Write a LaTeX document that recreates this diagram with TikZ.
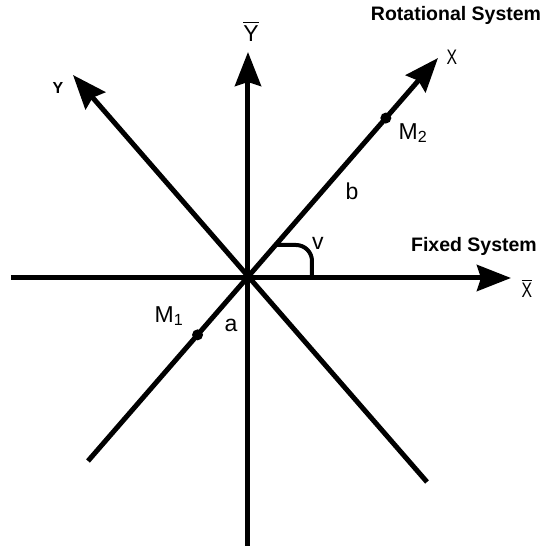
\documentclass[tikz,border=0pt]{standalone}
\usepackage{amsmath}
\usepackage{fontspec}
\setmainfont{Liberation Sans}
\newfontfamily\narrowfont{Liberation Sans}[FakeStretch=0.75]
\usetikzlibrary{arrows.meta}

\begin{document}
\begin{tikzpicture}[x=1pt, y=1pt, >={Stealth[length=34pt,width=26pt,inset=4pt]}, axis/.style={line width=5pt}, lbl/.style={font=\fontsize{23}{23}\selectfont, inner sep=0pt}, axlbl/.style={font=\fontsize{21}{21}\selectfont\narrowfont, inner sep=0pt}, title/.style={font=\fontsize{19.5}{19.5}\selectfont\bfseries, inner sep=0pt}, mass/.style={circle, fill, inner sep=0pt, minimum size=11pt}]
\useasboundingbox (-248,-268) rectangle (307,278);
% fixed system
\coordinate (O) at (0,0);
\coordinate (fixL) at (-237,0);
\coordinate (fixR) at (263,0);
\coordinate (fixB) at (0,-268);
\coordinate (fixT) at (0,226);
\draw[axis,->] (fixL) -- (fixR);
\draw[axis,->] (fixB) -- (fixT);
% rotational system
\coordinate (rotxL) at (-160,-183);
\coordinate (rotxR) at (190,220);
\coordinate (rotyR) at (179,-204);
\coordinate (rotyL) at (-175,203);
\draw[axis,->] (rotxL) -- coordinate[pos=0.313] (m1) coordinate[pos=0.851] (m2) (rotxR);
\draw[axis,->] (rotyR) -- (rotyL);
\node[mass] (M1dot) at (m1) {};
\node[mass] (M2dot) at (m2) {};
% angle v
\draw[line width=4pt] (29,33) -- (48,33) arc[start angle=90, end angle=0, radius=16] -- (64,0);
% labels
\node[title] (rot) at (208,263) {Rotational System};
\node[title] (fix) at (226,32) {Fixed System};
\node[axlbl] (Xbar) at (279,-10) {$\overline{\text{X}}$};
\node[lbl] (Ybar) at (3,247) {$\overline{\text{Y}}$};
\node[inner sep=0pt, font=\fontsize{16}{16}\selectfont\bfseries] (ylab) at (-190,190) {Y};
\node[axlbl] (xlab) at (204,221) {X};
\node[lbl] (M2lab) at (165,145) {M\textsubscript{2}};
\node[lbl] (M1lab) at (-79,-38) {M\textsubscript{1}};
\node[lbl] (alab) at (-17,-47) {a};
\node[lbl] (blab) at (104,87) {b};
\node[lbl] (vlab) at (70,35) {v};
\end{tikzpicture}
\end{document}
